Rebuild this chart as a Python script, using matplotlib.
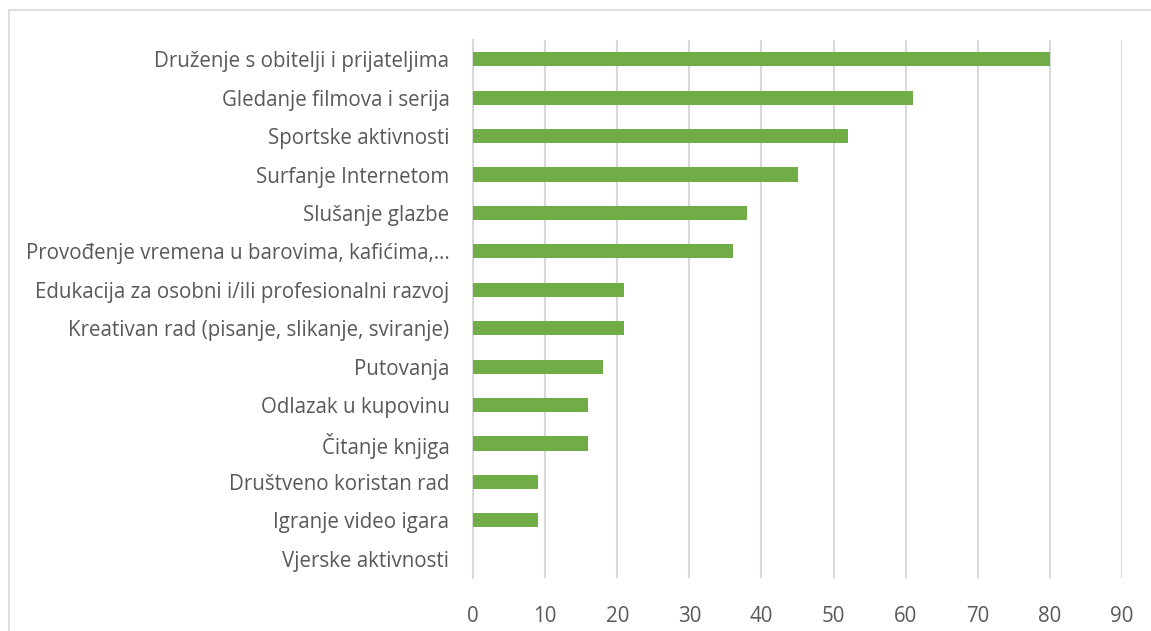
import matplotlib.pyplot as plt
from matplotlib.patches import Rectangle

# podaci
aktivnosti = [
    'Druženje s obitelji i prijateljima',
    'Gledanje filmova i serija',
    'Sportske aktivnosti',
    'Surfanje Internetom',
    'Slušanje glazbe',
    'Provođenje vremena u barovima, kafićima,…',
    'Edukacija za osobni i/ili profesionalni razvoj',
    'Kreativan rad (pisanje, slikanje, sviranje)',
    'Putovanja',
    'Odlazak u kupovinu',
    'Čitanje knjiga',
    'Društveno koristan rad',
    'Igranje video igara',
    'Vjerske aktivnosti',
]
vrijednosti = [80, 61, 52, 45, 38, 36, 21, 21, 18, 16, 16, 9, 9, 0]
x_ticks = [0, 10, 20, 30, 40, 50, 60, 70, 80, 90]

W, H = 1151, 631
fig = plt.figure(figsize=(W / 100, H / 100), dpi=100)
plt.rcParams['font.family'] = ['Open Sans', 'DejaVu Sans']

# okvir grafikona
fig.patches.append(Rectangle((9 / W, -0.1), 1.2, 1 - 10 / H + 0.1,
                             transform=fig.transFigure, fill=False,
                             edgecolor='#d9d9d9', linewidth=1.2))

ax = fig.add_axes([473 / W, 1 - 578 / H, (1122 - 473) / W, (578 - 40) / H])
pozicije = list(range(len(aktivnosti)))
ax.barh(pozicije, vrijednosti, height=0.37, color='#70ad47', zorder=3)
ax.set_ylim(len(aktivnosti) - 0.5, -0.5)
ax.set_xlim(0, 90)
ax.set_xticks(x_ticks)
ax.set_yticks(pozicije)
ax.set_yticklabels(aktivnosti)
ax.grid(axis='x', color='#d9d9d9', linewidth=1.5, zorder=0)
for s in ['top', 'right', 'bottom']:
    ax.spines[s].set_visible(False)
ax.spines['left'].set_color('#d9d9d9')
ax.spines['left'].set_linewidth(1.5)
ax.tick_params(axis='both', length=0, labelsize=14.8, colors='#595959')
ax.tick_params(axis='y', pad=17)
ax.tick_params(axis='x', pad=20)

fig.savefig('out.png', dpi=100)
